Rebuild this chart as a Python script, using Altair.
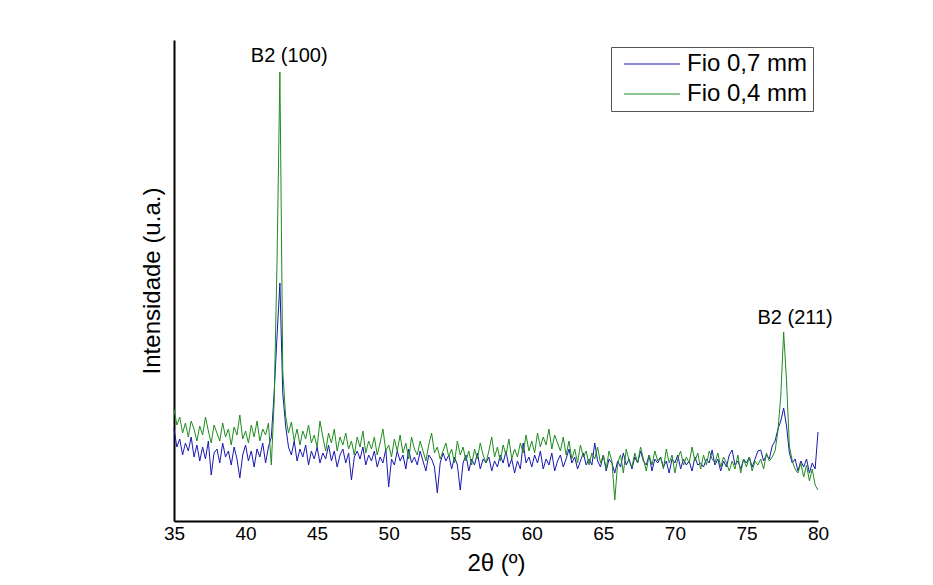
import altair as alt
import pandas as pd

# ---- data (intensity in arbitrary units) ----
x_start = 35.0
x_step = 0.2

fio07 = [
    92, 74, 82, 66, 78,
    70, 84, 64, 76, 60,
    74, 62, 80, 46, 68,
    72, 58, 78, 64, 70,
    56, 74, 62, 43, 66,
    76, 60, 70, 54, 72,
    64, 78, 58, 74, 84,
    128, 185, 238, 128, 95,
    74, 66, 80, 60, 72,
    64, 76, 56, 70, 62,
    74, 58, 68, 62, 76,
    60, 70, 54, 66, 72,
    58, 68, 41, 64, 70,
    62, 74, 56, 66, 60,
    70, 54, 64, 58, 72,
    34, 62, 56, 70, 60,
    66, 52, 72, 58, 64,
    56, 70, 60, 50, 66,
    62, 54, 28, 58, 68,
    60, 66, 52, 64, 56,
    31, 58, 66, 50, 62,
    56, 68, 52, 62, 58,
    64, 50, 60, 54, 66,
    58, 70, 54, 62, 48,
    60, 52, 78, 58, 64,
    54, 66, 58, 70, 52,
    62, 56, 68, 50, 60,
    66, 54, 62, 72, 58,
    64, 52, 60, 68, 56,
    62, 56, 78, 60, 54,
    66, 50, 62, 58, 48,
    60, 54, 68, 56, 62,
    52, 64, 58, 70, 60,
    56, 66, 50, 62, 58,
    64, 54, 60, 48, 62,
    58, 66, 52, 62, 56,
    60, 50, 64, 56, 58,
    54, 62, 58, 71, 56,
    62, 50, 60, 54, 66,
    71, 56, 60, 52, 62,
    58, 64, 54, 62, 70,
    71, 60, 66, 62, 75,
    80, 92, 100, 113, 95,
    68, 58, 62, 50, 60,
    54, 62, 48, 58, 52,
    89,
]

fio04 = [
    112, 96, 104, 88, 98,
    84, 100, 92, 80, 95,
    86, 104, 90, 78, 96,
    88, 80, 98, 84, 92,
    76, 94, 86, 106, 82,
    90, 78, 96, 84, 100,
    80, 92, 86, 98, 56,
    120, 260, 449, 150, 105,
    88, 99, 80, 92, 76,
    90, 82, 96, 78, 86,
    74, 100, 84, 70, 88,
    78, 92, 70, 84, 76,
    88, 72, 80, 66, 84,
    74, 90, 68, 80, 72,
    84, 66, 78, 92, 70,
    76, 64, 82, 70, 86,
    68, 78, 62, 84, 72,
    66, 80, 70, 60, 76,
    88, 68, 74, 62, 70,
    78, 64, 72, 58, 80,
    66, 74, 60, 70, 56,
    72, 62, 78, 66, 58,
    70, 84, 64, 74, 60,
    76, 66, 82, 62, 72,
    64, 78, 68, 86, 70,
    80, 68, 88, 74, 84,
    76, 92, 72, 86, 78,
    70, 84, 66, 80, 62,
    72, 58, 76, 64, 70,
    56, 68, 62, 74, 58,
    66, 52, 70, 60, 21,
    58, 66, 48, 72, 60,
    54, 68, 58, 74, 62,
    50, 66, 56, 70, 60,
    64, 52, 72, 58, 66,
    48, 62, 70, 56, 64,
    58, 74, 60, 68, 52,
    66, 56, 70, 62, 58,
    68, 54, 64, 58, 50,
    60, 52, 66, 48, 62,
    54, 64, 50, 60, 56,
    62, 52, 68, 60, 64,
    70, 90, 125, 189, 140,
    75, 60, 52, 48, 58,
    44, 56, 40, 52, 36,
    31,
]

series_names = ["Fio 0,7 mm", "Fio 0,4 mm"]
series_colors = ["#1818b0", "#1e8c1e"]
x_ticks = [35, 40, 45, 50, 55, 60, 65, 70, 75, 80]

peak_labels = ["B2 (100)", "B2 (211)"]
peak_label_x = [43.05, 78.4]
peak_label_y = [465, 203]

FONT = "Liberation Sans"

# ---- build tables ----
n = len(fio07)
xs = [round(x_start + x_step * i, 1) for i in range(n)]
rows = []
for name, vals in zip(series_names, [fio07, fio04]):
    for xv, yv in zip(xs, vals):
        rows.append({"theta": xv, "inten": yv, "serie": name})
df = pd.DataFrame(rows)

lab_df = pd.DataFrame({"theta": peak_label_x, "inten": peak_label_y, "txt": peak_labels})

xscale = alt.Scale(domain=[35, 80], nice=False, zero=False)
yscale = alt.Scale(domain=[0, 481], nice=False, zero=False)

lines = alt.Chart(df).mark_line(strokeWidth=1).encode(
    x=alt.X(
        "theta:Q",
        scale=xscale,
        axis=alt.Axis(
            values=x_ticks,
            title="2θ (º)",
            tickSize=0,
            ticks=False,
            grid=False,
            labelFont=FONT,
            labelFontSize=19,
            labelColor="black",
            labelPadding=3,
            labelFlush=False,
            domainColor="black",
            domainWidth=2,
            titleFont=FONT,
            titleFontSize=24,
            titleFontWeight="normal",
            titleColor="black",
            titlePadding=8,
        ),
    ),
    y=alt.Y(
        "inten:Q",
        scale=yscale,
        axis=alt.Axis(
            title="Intensidade (u.a.)",
            labels=False,
            ticks=False,
            grid=False,
            domainColor="black",
            domainWidth=2,
            titleFont=FONT,
            titleFontSize=24,
            titleFontWeight="normal",
            titleColor="black",
            titlePadding=10,
        ),
    ),
    color=alt.Color(
        "serie:N",
        scale=alt.Scale(domain=series_names, range=series_colors),
        legend=alt.Legend(
            title=None,
            orient="none",
            legendX=437,
            legendY=7,
            symbolType="M-3.5,0H3.5",
            symbolSize=256,
            symbolStrokeWidth=1,
            symbolOffset=24,
            labelOffset=23,
            labelFont=FONT,
            labelFontSize=24,
            labelColor="black",
            padding=5,
            rowPadding=6,
            strokeColor="#555555",
            fillColor="white",
        ),
    ),
    detail="serie:N",
)

labels = alt.Chart(lab_df).mark_text(
    font=FONT, fontSize=20, color="black", baseline="middle", align="center"
).encode(
    x=alt.X("theta:Q", scale=xscale),
    y=alt.Y("inten:Q", scale=yscale),
    text="txt:N",
)

chart = (
    alt.layer(lines, labels)
    .properties(
        width=644,
        height=481,
        autosize=alt.AutoSizeParams(type="none"),
        padding={"left": 166, "top": 32, "right": 100, "bottom": 62},
        background="white",
    )
    .configure_view(stroke=None)
)

chart.save("out.html", embed_options={"renderer": "svg", "actions": False})
